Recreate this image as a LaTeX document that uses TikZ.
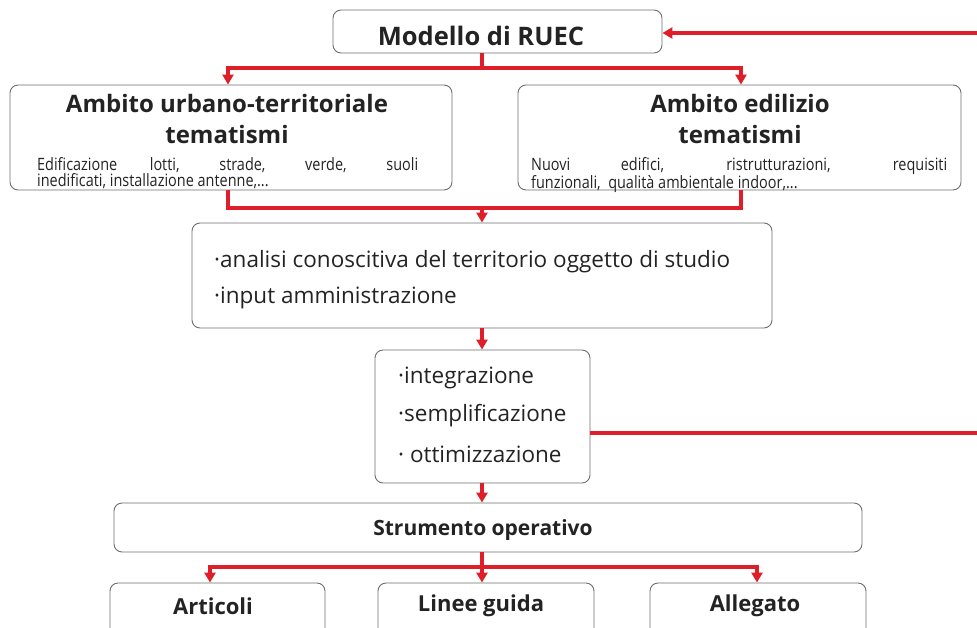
\documentclass[tikz,border=0pt]{standalone}
\usepackage{fontspec}
\setmainfont{Open Sans}
\usetikzlibrary{arrows.meta}
\definecolor{flowred}{RGB}{222,30,40}
\definecolor{boxgray}{RGB}{110,110,110}
\definecolor{txt}{RGB}{35,35,35}
\tikzset{
  boxnode/.style={draw=boxgray, line width=0.9pt, rounded corners=8pt, fill=white, inner sep=0pt},
  redline/.style={draw=flowred, line width=3.4pt},
  redarrow/.style={redline, -{Triangle[length=10pt,width=11pt]}},
  titletxt/.style={text=txt, inner sep=0pt, font=\bfseries\fontsize{24}{28}\selectfont},
  headtxt/.style={text=txt, inner sep=0pt, font=\bfseries\fontsize{22}{26}\selectfont},
  bodytxt/.style={text=txt, inner sep=0pt, anchor=north west, align=left, font=\fontsize{17}{16.5}\selectfont\addfontfeature{FakeStretch=0.85}},
  itemtxt/.style={text=txt, inner sep=0pt, anchor=west, font=\fontsize{22.5}{26}\selectfont},
}
\begin{document}
\begin{tikzpicture}[x=1pt,y=-1pt]
\useasboundingbox (0,0) rectangle (977,627);
\clip (0,0) rectangle (977,627);
% boxes
\node[boxnode, minimum width=329pt, minimum height=43pt] (ruec) at (497.5,31.5) {};
\node[boxnode, minimum width=442pt, minimum height=105pt] (urb) at (231,137.5) {};
\node[boxnode, minimum width=443pt, minimum height=105pt] (edi) at (739.5,137.5) {};
\node[boxnode, minimum width=580pt, minimum height=105pt] (ana) at (482,275.5) {};
\node[boxnode, minimum width=215pt, minimum height=133pt] (integr) at (482.5,416.5) {};
\node[boxnode, minimum width=748pt, minimum height=49pt] (strum) at (488,527.5) {};
\node[boxnode, minimum width=215pt, minimum height=60pt] (art) at (217.5,613) {};
\node[boxnode, minimum width=216pt, minimum height=60pt] (lin) at (486,613) {};
\node[boxnode, minimum width=216pt, minimum height=60pt] (all) at (758,613) {};
% texts
\node[headtxt, font=\bfseries\fontsize{25.5}{28}\selectfont] (ruect) at (481,36) {Modello di RUEC};
\node[titletxt] (urbt1) at (227,103) {Ambito urbano-territoriale};
\node[titletxt] (urbt2) at (227,134) {tematismi};
\node[bodytxt] (urbb) at (37,157) {\makebox[381pt][s]{Edificazione lotti, strade, verde, suoli}\\inedificati, installazione antenne,...};
\node[titletxt] (edit1) at (740,103) {Ambito edilizio};
\node[titletxt] (edit2) at (740,134) {tematismi};
\node[bodytxt] (edib) at (531,157) {\makebox[416pt][s]{Nuovi edifici, ristrutturazioni, requisiti}\\funzionali,\ \ qualità ambientale indoor,...};
\node[itemtxt] (ana1) at (214,262) {·analisi conoscitiva del territorio oggetto di studio};
\node[itemtxt] (ana2) at (214,298) {·input amministrazione};
\node[itemtxt] (int1) at (398,378) {·integrazione};
\node[itemtxt] (int2) at (398,416) {·semplificazione};
\node[itemtxt] (int3) at (398,454) {· ottimizzazione};
\node[headtxt, font=\bfseries\fontsize{21}{25}\selectfont] (strumt) at (483,530) {Strumento operativo};
\node[headtxt] (artt) at (213,606) {Articoli};
\node[headtxt] (lint) at (481,606) {Linee guida};
\node[headtxt] (allt) at (755,606) {Allegato};
% coordinates
\coordinate (mainx) at (482,0);
\coordinate (rin) at (977,33);
\coordinate (rout) at (977,433);
\coordinate (f1) at (482,68);
\coordinate (f2) at (482,208);
\coordinate (f3) at (482,567);
\coordinate (lx) at (228,0);
\coordinate (rx) at (741,0);
\coordinate (ax) at (210,0);
\coordinate (gx) at (757,0);
% connectors
\draw[redarrow] (rin) -- (ruec.east |- rin);
\draw[redline] (ruec.south -| mainx) -- (f1);
\draw[redarrow] (f1) -| (urb.north -| lx);
\draw[redarrow] (f1) -| (edi.north -| rx);
\draw[redline] (urb.south -| lx) |- (f2);
\draw[redline] (edi.south -| rx) |- (f2);
\draw[redarrow] (f2) -- (ana.north -| f2);
\draw[redarrow] (ana.south -| mainx) -- (integr.north -| mainx);
\draw[redline] (integr.east |- rout) -- (rout);
\draw[redarrow] (integr.south -| mainx) -- (strum.north -| mainx);
\draw[redline] (strum.south -| mainx) -- (f3);
\draw[redarrow] (f3) -| (art.north -| ax);
\draw[redarrow] (f3) -| (all.north -| gx);
\draw[redarrow] (f3) -- (lin.north -| f3);
\end{tikzpicture}
\end{document}
